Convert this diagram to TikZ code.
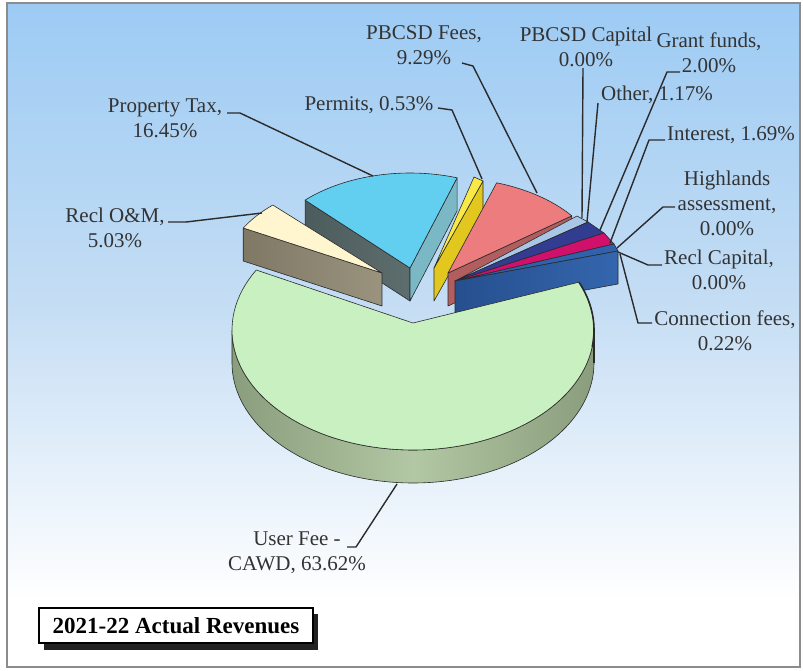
\documentclass[tikz,border=0pt]{standalone}
\usepackage{fontspec}
\setmainfont{Liberation Serif}
\definecolor{bgtop}{HTML}{9DCBF4}
\definecolor{bgmid}{HTML}{C4DDF4}
\definecolor{framecol}{HTML}{8C8C8C}
\definecolor{labelcol}{HTML}{333333}
\definecolor{leadcol}{HTML}{2B2B2B}
\definecolor{edgecol}{HTML}{2A2A2A}
\definecolor{gtop}{HTML}{C8F0C0}
\definecolor{gsa}{HTML}{8A9D7D}
\definecolor{gsb}{HTML}{B2C7A3}
\definecolor{cytop}{HTML}{62CFF0}
\definecolor{cydark}{HTML}{4C5B5C}
\definecolor{cydarkb}{HTML}{5E6E6E}
\definecolor{cyteal}{HTML}{79B8C4}
\definecolor{crtop}{HTML}{FFF6CF}
\definecolor{crfa}{HTML}{7F7865}
\definecolor{crfb}{HTML}{9A937E}
\definecolor{yetop}{HTML}{F8E848}
\definecolor{yeside}{HTML}{E2C81E}
\definecolor{satop}{HTML}{EC7C7E}
\definecolor{saside}{HTML}{B35E5E}
\definecolor{ltsl}{HTML}{A8C6E6}
\definecolor{navy}{HTML}{323C90}
\definecolor{mag}{HTML}{D0106A}
\definecolor{bltop}{HTML}{3062AC}
\definecolor{blfa}{HTML}{264F8E}
\definecolor{blfb}{HTML}{3466AE}
\definecolor{shadowcol}{HTML}{222222}
\begin{document}
\begin{tikzpicture}[x=1pt,y=-1pt,
  lbl/.style={font=\fontsize{21}{25}\selectfont, text=labelcol, align=center, inner sep=0pt},
  leader/.style={draw=leadcol, line width=1.4pt, line join=round},
  edge/.style={draw=edgecol, line width=0.6pt, line join=round}]
\useasboundingbox (0,0) rectangle (803,670);
% background and frame
\shade[top color=bgtop, bottom color=white, middle color=bgmid] (7,3) rectangle (800,600);
\fill[white] (7,600) rectangle (800,667);
\draw[framecol, line width=1.4pt] (7,3) rectangle (800,667);

% ---- Property Tax (cyan)
\coordinate (C) at (410,268);
\coordinate (C1) at ({410+150*cos(-134.4)},{268+95*sin(-134.4)});
\coordinate (C2) at ({410+150*cos(-71.7)},{268+95*sin(-71.7)});
\draw[edge, left color=cydark, right color=cydarkb] (C1) -- (C) -- ([yshift=-33pt]C) -- ([yshift=-33pt]C1) -- cycle;
\draw[edge, fill=cyteal] (C) -- (C2) -- ([yshift=-33pt]C2) -- ([yshift=-33pt]C) -- cycle;
\draw[edge, fill=cytop] (C) -- (C1) -- plot[domain=-134.4:-71.7, samples=40] ({410+150*cos(\x)},{268+95*sin(\x)}) -- cycle;

% ---- Recl O&M (cream)
\coordinate (R) at (382,273);
\coordinate (R1) at ({382+158*cos(-151.4)},{273+94*sin(-151.4)});
\draw[edge, left color=crfa, right color=crfb] (R1) -- (R) -- ([yshift=-33pt]R) -- ([yshift=-33pt]R1) -- cycle;
\draw[edge, fill=crtop] (R) -- (R1) -- plot[domain=-151.4:-133.7, samples=20] ({382+158*cos(\x)},{273+94*sin(\x)}) -- cycle;

% ---- Permits (yellow)
\coordinate (Y) at (434,268);
\coordinate (Y1) at (474,177);
\coordinate (Y2) at (483,181);
\draw[edge, fill=yeside] (Y) -- (Y2) -- ([yshift=-33pt]Y2) -- ([yshift=-33pt]Y) -- cycle;
\draw[edge, fill=yetop] (Y) -- (Y1) -- (Y2) -- cycle;

% ---- PBCSD Fees (salmon)
\coordinate (S) at (448,273);
\coordinate (S2) at ({448+155*cos(-37)},{273+95*sin(-37)});
\draw[edge, fill=saside] (S) -- (S2) -- ([yshift=-33pt]S2) -- ([yshift=-33pt]S) -- cycle;
\draw[edge, fill=satop] (S) -- plot[domain=-71.7:-37, samples=30] ({448+155*cos(\x)},{273+95*sin(\x)}) -- cycle;

% ---- small right slices
\coordinate (A) at (455,281);
\coordinate (P1) at (577,216);
\coordinate (P2) at (588,222);
\coordinate (P3) at (604,233);
\coordinate (P4) at (614,244);
\coordinate (P5) at (618,251);
\draw[edge, fill=ltsl] (A) -- (P1) -- (P2) -- cycle;
\draw[edge, fill=navy] (A) -- (P2) -- (P3) -- cycle;
\draw[edge, fill=mag] (A) -- (P3) -- (P4) -- cycle;
\draw[edge, fill=bltop] (A) -- (P4) -- (P5) -- cycle;
\draw[edge, left color=blfa, right color=blfb] (A) -- (P5) -- ([yshift=-33pt]P5) -- ([yshift=-33pt]A) -- cycle;

% ---- User Fee - CAWD (green)
\coordinate (G) at (413,323);
\draw[edge, left color=gsa, right color=gsa, middle color=gsb]
  plot[domain=180:0, samples=80] ({413+181*cos(\x)},{330+120*sin(\x)})
  -- plot[domain=0:180, samples=80] ({413+181*cos(\x)},{363+120*sin(\x)}) -- cycle;
\draw[edge, fill=gtop] (G) -- plot[domain=210:-23.5, samples=90] ({413+181*cos(\x)},{330+120*sin(\x)}) -- cycle;
\draw[edgecol, line width=1.6pt] plot[domain=-23.5:8, samples=20] ({413+181*cos(\x)},{330+120*sin(\x)});
\draw[edgecol, line width=1.6pt] (594,330) -- (594,363);

% ---- labels
\node[lbl] (lPF) at (424,45) {PBCSD Fees,\\9.29\%};
\node[lbl] (lPC) at (586,47) {PBCSD Capital\\0.00\%};
\node[lbl] (lGF) at (709,53) {Grant funds,\\2.00\%};
\node[lbl] (lOT) at (657,95) {Other, 1.17\%};
\node[lbl] (lIN) at (731,135) {Interest, 1.69\%};
\node[lbl] (lHL) at (727,203) {Highlands\\assessment,\\0.00\%};
\node[lbl] (lRC) at (719,270) {Recl Capital,\\0.00\%};
\node[lbl] (lCF) at (725,331) {Connection fees,\\0.22\%};
\node[lbl] (lPT) at (165,118) {Property Tax,\\16.45\%};
\node[lbl] (lPM) at (369,105) {Permits, 0.53\%};
\node[lbl] (lRO) at (115,228) {Recl O\&M,\\5.03\%};
\node[lbl] (lUF) at (297,553) {User Fee -\\CAWD, 63.62\%};

% ---- leader lines
\coordinate (tPT) at (373,176);
\coordinate (tRO) at (262,213);
\coordinate (tPM) at (482,179);
\coordinate (tPF) at (537,193);
\coordinate (tPC) at (582,218);
\coordinate (tOT) at (587,222);
\coordinate (tGF) at (600,230);
\coordinate (tIN) at (610,243);
\coordinate (tHL) at (617,248);
\coordinate (tRC) at (618,252);
\coordinate (tCF) at (620,254);
\coordinate (tUF) at (397,484);
\draw[leader] (227,113) -- (240,113) -- (tPT);
\draw[leader] (168,222) -- (186,222) -- (tRO);
\draw[leader] (438,108) -- (452,110) -- (tPM);
\draw[leader] (462,63) -- (473,66) -- (tPF);
\draw[leader] (583,68) -- (tPC);
\draw[leader] (598,103) -- (tOT);
\draw[leader] (680,72) -- (667,72) -- (tGF);
\draw[leader] (665,140) -- (649,140) -- (tIN);
\draw[leader] (675,207) -- (663,207) -- (tHL);
\draw[leader] (662,265) -- (648,265) -- (tRC);
\draw[leader] (652,323) -- (638,323) -- (tCF);
\draw[leader] (347,547) -- (356,547) -- (tUF);

% ---- title box
\fill[shadowcol] (44,614) rectangle (318,650);
\node[draw=black, line width=1.2pt, fill=white, minimum width=274pt, minimum height=35pt,
  inner sep=0pt, font=\fontsize{23}{26}\selectfont\bfseries, text=black] (title) at (176,625.5) {2021-22 Actual Revenues};
\end{tikzpicture}
\end{document}
